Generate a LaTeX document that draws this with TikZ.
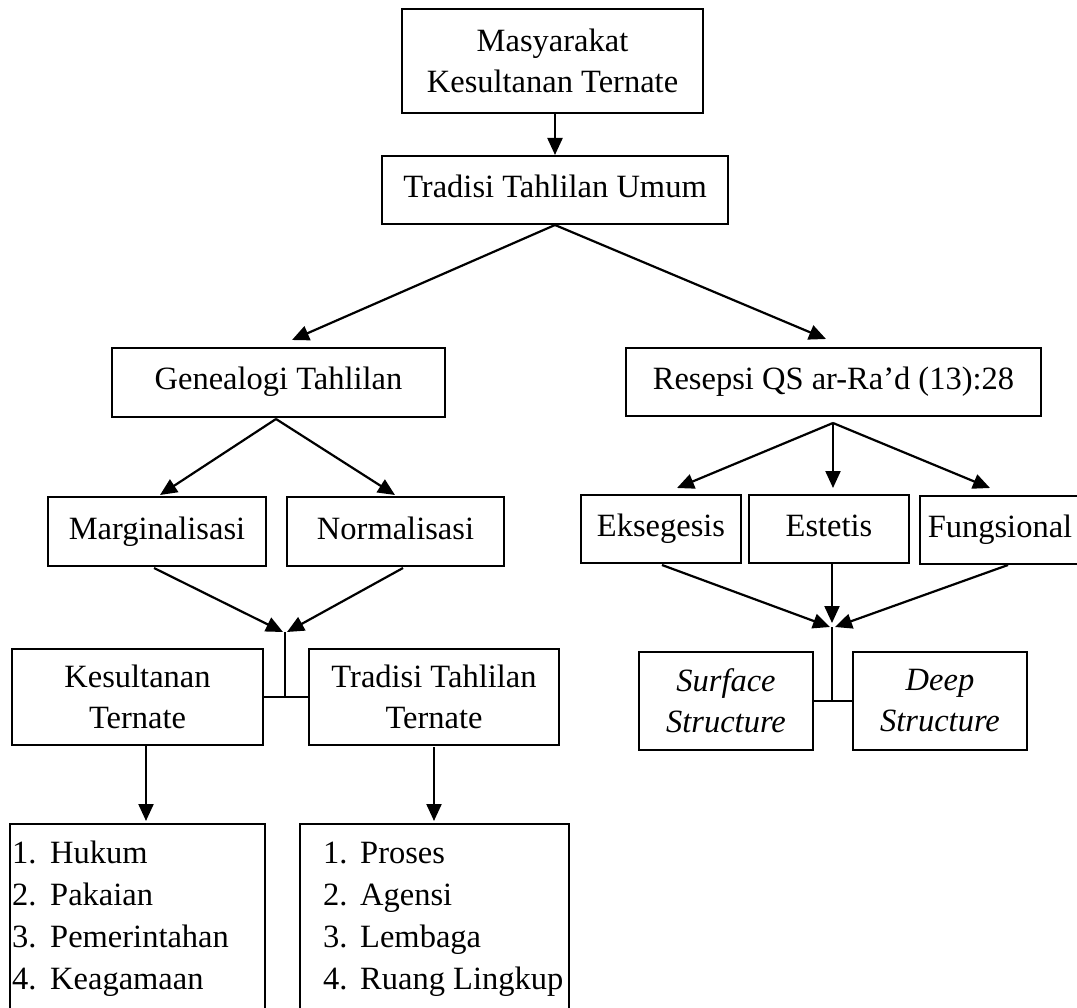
\documentclass[tikz,border=0pt]{standalone}
\usepackage{fontspec}
\setmainfont{Liberation Serif}
\usetikzlibrary{arrows.meta,calc}
\begin{document}
\begin{tikzpicture}[x=1pt,y=-1pt,
  font=\fontsize{32.5}{41}\selectfont,
  box/.style={draw, line width=2pt, inner sep=0pt, align=center},
  onebox/.style={box, text height=22pt, text depth=7pt},
  conn/.style={line width=2.2pt},
  arr/.style={conn, -{Triangle[length=17pt,width=15pt]}},
  item/.style={anchor=base west, inner sep=0pt}]
\clip (0,0) rectangle (1077,1008);
\fill[white] (0,0) rectangle (1077,1008);
% boxes
\node[box, minimum width=301pt, minimum height=104pt] (top) at (552.5,61) {Masyarakat\\Kesultanan Ternate};
\node[onebox, minimum width=346pt, minimum height=68pt] (umum) at (555,190) {Tradisi Tahlilan Umum};
\node[onebox, minimum width=333pt, minimum height=69pt] (gen) at (278.5,382.5) {Genealogi Tahlilan};
\node[onebox, minimum width=415pt, minimum height=68pt] (res) at (833.5,382) {Resepsi QS ar-Ra’d (13):28};
\node[onebox, minimum width=218pt, minimum height=69pt] (marg) at (157,531.5) {Marginalisasi};
\node[onebox, minimum width=217pt, minimum height=69pt] (norm) at (395.5,531.5) {Normalisasi};
\node[onebox, minimum width=160pt, minimum height=68pt] (eks) at (661,529) {Eksegesis};
\node[onebox, minimum width=160pt, minimum height=68pt] (est) at (829,529) {Estetis};
\node[onebox, minimum width=160pt, minimum height=68pt, anchor=north west] (fung) at (919,495) {Fungsional};
\node[box, minimum width=251pt, minimum height=96pt] (kes) at (137.5,697) {Kesultanan\\Ternate};
\node[box, minimum width=250pt, minimum height=96pt] (trt) at (434,697) {Tradisi Tahlilan\\Ternate};
\node[box, minimum width=174pt, minimum height=98pt] (surf) at (726,701) {\itshape Surface\\\itshape Structure};
\node[box, minimum width=174pt, minimum height=98pt] (deep) at (940,701) {\itshape Deep\\\itshape Structure};
\node[box, minimum width=255pt, minimum height=200pt, anchor=north west] (lista) at (9,823) {};
\node[box, minimum width=269pt, minimum height=200pt, anchor=north west] (listb) at (299,823) {};
% list items
\foreach \t [count=\n] in {Hukum,Pakaian,Pemerintahan,Keagamaan}{
  \node[item] (la\n) at (12,820.7+42.3*\n) {\n.};
  \node[item] (lw\n) at (50,820.7+42.3*\n) {\t};
}
\foreach \t [count=\n] in {Proses,Agensi,Lembaga,Ruang Lingkup}{
  \node[item] (lb\n) at (323,820.7+42.3*\n) {\n.};
  \node[item] (lv\n) at (360,820.7+42.3*\n) {\t};
}
% coordinates
\coordinate (gtip) at (292,340);
\coordinate (rtip) at (826,339);
\coordinate (gj) at (276,419);
\coordinate (mtip) at (160,495);
\coordinate (ntip) at (395,495);
\coordinate (rj) at (833,423);
\coordinate (etip) at (677,488);
\coordinate (sttip) at (833,488);
\coordinate (ftip) at (990,488);
\coordinate (ms) at (154,568);
\coordinate (ns) at (403,568);
\coordinate (j1) at (285,632);
\coordinate (j1l) at (283,632);
\coordinate (j1r) at (287,632);
\coordinate (es) at (662,565);
\coordinate (ts) at (832,563);
\coordinate (fs) at (1008,565);
\coordinate (j2) at (832,627);
\coordinate (j2l) at (830,627);
\coordinate (j2m) at (832,623);
\coordinate (j2r) at (835,627);
\coordinate (kd) at (146,745);
\coordinate (kdt) at (146,821);
\coordinate (td) at (434,747);
\coordinate (tdt) at (434,821);
% connectors
\draw[arr] (umum.north |- top.south) -- (umum.north);
\draw[arr] (umum.south) -- (gtip);
\draw[arr] (umum.south) -- (rtip);
\draw[arr] (gj) -- (mtip);
\draw[arr] (gj) -- (ntip);
\draw[arr] (rj) -- (etip);
\draw[arr] (rj) -- (sttip);
\draw[arr] (rj) -- (ftip);
\draw[arr] (ms) -- (j1l);
\draw[arr] (ns) -- (j1r);
\draw[conn] (j1) -- (j1 |- kes.east);
\draw[conn] (kes.east) -- (trt.west);
\draw[arr] (es) -- (j2l);
\draw[arr] (ts) -- (j2m);
\draw[arr] (fs) -- (j2r);
\draw[conn] (j2) -- (j2 |- surf.east);
\draw[conn] (surf.east) -- (deep.west);
\draw[arr] (kd) -- (kdt);
\draw[arr] (td) -- (tdt);
\end{tikzpicture}
\end{document}
